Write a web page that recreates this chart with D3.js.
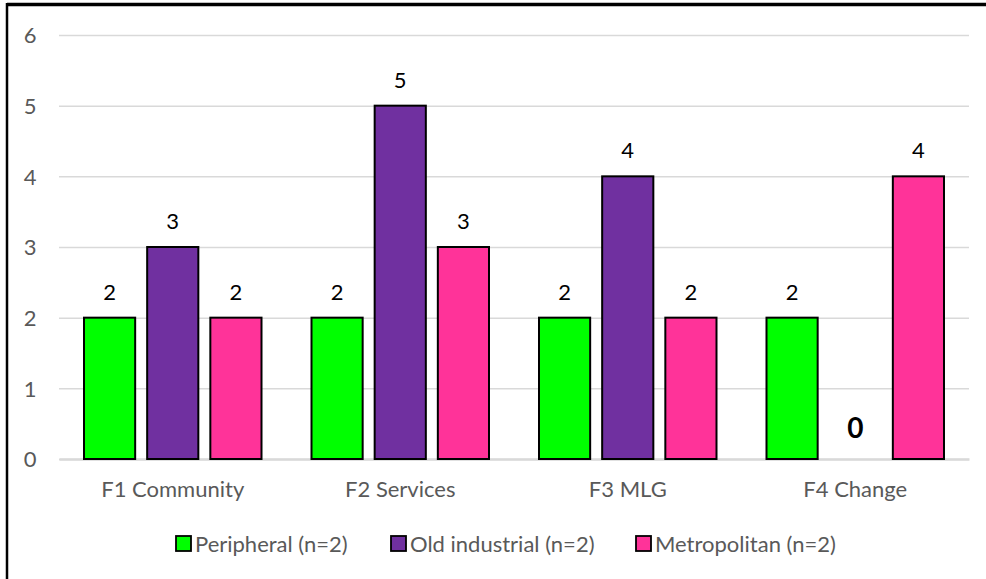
<!DOCTYPE html>
<html>
<head>
<meta charset="utf-8">
<script src="https://cdn.jsdelivr.net/npm/d3@7"></script>
<style>
  html, body { margin: 0; padding: 0; background: #fff; }
  svg { display: block; }
  svg text { font-family: Lato, "Open Sans", sans-serif; }
</style>
</head>
<body>
<svg id="chart" width="986" height="579"></svg>
<script>
// Factor counts per region type
const categories = ["F1 Community", "F2 Services", "F3 MLG", "F4 Change"];
const seriesNames = ["Peripheral (n=2)", "Old industrial (n=2)", "Metropolitan (n=2)"];
const peripheral = [2, 2, 2, 2];
const oldIndustrial = [3, 5, 4, 0];
const metropolitan = [2, 3, 2, 4];
const yTicks = [0, 1, 2, 3, 4, 5, 6];
const colors = ["#00ff00", "#7030a0", "#ff3399"];

const series = [peripheral, oldIndustrial, metropolitan];

const svg = d3.select("#chart");
const W = 986, H = 579;
const plot = { left: 59, right: 969, top: 35, bottom: 459 };
const FS = 22;

// Outer frame (top and left edges)
svg.append("line").attr("x1", 7).attr("x2", W).attr("y1", 4.5).attr("y2", 4.5)
  .attr("stroke", "#000").attr("stroke-width", 3.5);
svg.append("line").attr("x1", 7).attr("x2", 7).attr("y1", 3).attr("y2", H)
  .attr("stroke", "#000").attr("stroke-width", 2.5);

const x0 = d3.scaleBand().domain(categories).range([plot.left, plot.right]).paddingInner(0).paddingOuter(0);
const x1 = d3.scaleBand().domain(d3.range(series.length)).range([25, x0.bandwidth() - 25]).paddingInner(0.19).paddingOuter(0);
const y = d3.scaleLinear().domain([0, 6]).range([plot.bottom, plot.top]);

// Gridlines and y tick labels
const yAxis = d3.axisLeft(y).tickValues(yTicks).tickFormat(d3.format("d"))
  .tickSize(-(plot.right - plot.left));
const gy = svg.append("g").attr("transform", `translate(${plot.left},0)`).call(yAxis)
  .attr("font-family", null).attr("font-size", null);
gy.select(".domain").remove();
gy.selectAll(".tick line").attr("stroke", "#d9d9d9").attr("stroke-width", 1.5);
gy.selectAll(".tick text").attr("fill", "#595959").attr("font-size", FS)
  .attr("x", -29).attr("dy", "0.36em").attr("text-anchor", "middle");

// Category labels
const xAxis = d3.axisBottom(x0).tickSize(0).tickPadding(0);
const gx = svg.append("g").attr("transform", `translate(0,${plot.bottom})`).call(xAxis)
  .attr("font-family", null).attr("font-size", null);
gx.select(".domain").attr("stroke", "#d9d9d9").attr("stroke-width", 2.5);
gx.selectAll(".tick text").attr("fill", "#595959").attr("font-size", FS)
  .attr("y", 38).attr("dy", null);

// Bars
const groups = svg.append("g").selectAll("g").data(categories).join("g")
  .attr("transform", d => `translate(${x0(d)},0)`);

groups.each(function(cat, ci) {
  const g = d3.select(this);
  series.forEach((vals, si) => {
    const v = vals[ci];
    const cx = x1(si) + x1.bandwidth() / 2;
    if (v > 0) {
      g.append("rect")
        .attr("x", x1(si)).attr("width", x1.bandwidth())
        .attr("y", y(v)).attr("height", y(0) - y(v))
        .attr("fill", colors[si]).attr("stroke", "#000").attr("stroke-width", 2);
      g.append("text")
        .attr("x", cx).attr("y", y(v) - 18)
        .attr("text-anchor", "middle").attr("font-size", FS).attr("fill", "#000")
        .text(v);
    } else {
      g.append("text")
        .attr("x", cx).attr("y", y(0) - 21)
        .attr("text-anchor", "middle").attr("font-size", 28).attr("font-weight", "bold").attr("fill", "#000")
        .text(v);
    }
  });
});

// Legend
const legendItems = [
  { name: seriesNames[0], x: 176 },
  { name: seriesNames[1], x: 391 },
  { name: seriesNames[2], x: 636 }
];
const lg = svg.append("g");
legendItems.forEach((it, i) => {
  lg.append("rect").attr("x", it.x).attr("y", 536).attr("width", 15).attr("height", 15)
    .attr("fill", colors[i]).attr("stroke", "#000").attr("stroke-width", 1.8);
  lg.append("text").attr("x", it.x + 19).attr("y", 551.5)
    .attr("font-size", FS).attr("fill", "#595959").text(it.name);
});
</script>
</body>
</html>
